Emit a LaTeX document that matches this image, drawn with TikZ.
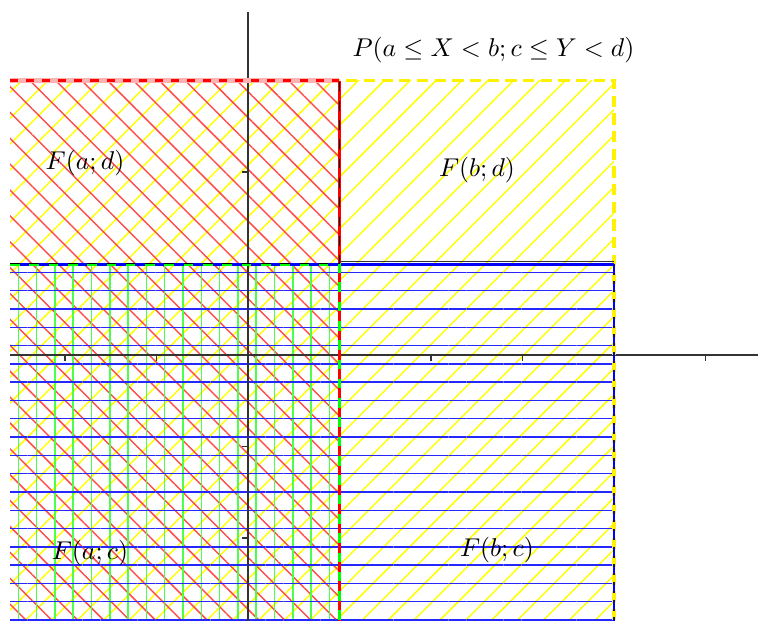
\documentclass[tikz,border=0pt]{standalone}
\usepackage{xcolor}
\usetikzlibrary{patterns.meta}
\tikzset{
  hatch/.style 2 args={pattern={Lines[angle=#1,distance=2mm,line width=0.45pt]}, pattern color=#2},
  rim/.style={line width=1pt, dash pattern=on 3.5pt off 2pt},
  axis/.style={line width=0.5pt, black!80},
  lbl/.style={inner sep=0pt, scale=0.8, transform shape}
}
\begin{document}
\begin{tikzpicture}
  \useasboundingbox (-2.71,-2.896) rectangle (5.574,3.88);
  \clip (-2.71,-2.896) rectangle (5.574,3.88);
  % hatched regions
  \fill[hatch={45}{yellow}] (-2.6,-3) rectangle (4,3);
  \fill[hatch={-45}{red!70}] (-2.6,-3) rectangle (1,3);
  \fill[hatch={90}{green!70}] (-2.6,-3) rectangle (1,1);
  \fill[hatch={0}{blue!85}] (-2.6,-3) rectangle (4,1);
  % axes
  \draw[axis] (-2.6,0) -- (5.6,0);
  \draw[axis] (0,-3) -- (0,3.75);
  \foreach \x in {-2,-1,1,2,3,4,5}
    \draw[axis] (\x,0) -- (\x,-0.06);
  \foreach \y in {-2,-1,1,2}
    \draw[axis] (0,\y) -- (-0.06,\y);
  % borders
  \draw[rim, yellow] (-2.6,3) -- (4,3) -- (4,-3);
  \draw[line width=1.6pt, red!30] (-2.6,3) -- (1,3);
  \draw[red, line width=0.7pt, dash pattern=on 2.5pt off 2.5pt] (-2.6,3) -- (1,3);
  \draw[red, line width=1.1pt] (1,3) -- (1,-3);
  \draw[blue, line width=0.7pt] (-2.6,0.99) -- (4,0.99);
  \draw[blue, line width=0.6pt, dash pattern=on 3.5pt off 2pt] (4,1) -- (4,-3);
  \draw[green, line width=0.7pt, dashed] (-2.6,0.99) -- (1,0.99) -- (1,-3);
  \draw[black, line width=0.45pt, dashed] (-2.6,1) -- (1,1) -- (1,3);
  \draw[black!80, line width=0.4pt] (1,1.02) -- (4,1.02);
  % labels
  \node[lbl] (prob) at (2.683,3.333) {$P(a \leq X < b; c \leq Y < d)$};
  \node[lbl] (fad) at (-1.781,2.098) {$F(a;d)$};
  \node[lbl] (fbd) at (2.503,2.022) {$F(b;d)$};
  \node[lbl] (fac) at (-1.727,-2.164) {$F(a;c)$};
  \node[lbl] (fbc) at (2.721,-2.131) {$F(b;c)$};
\end{tikzpicture}
\end{document}
